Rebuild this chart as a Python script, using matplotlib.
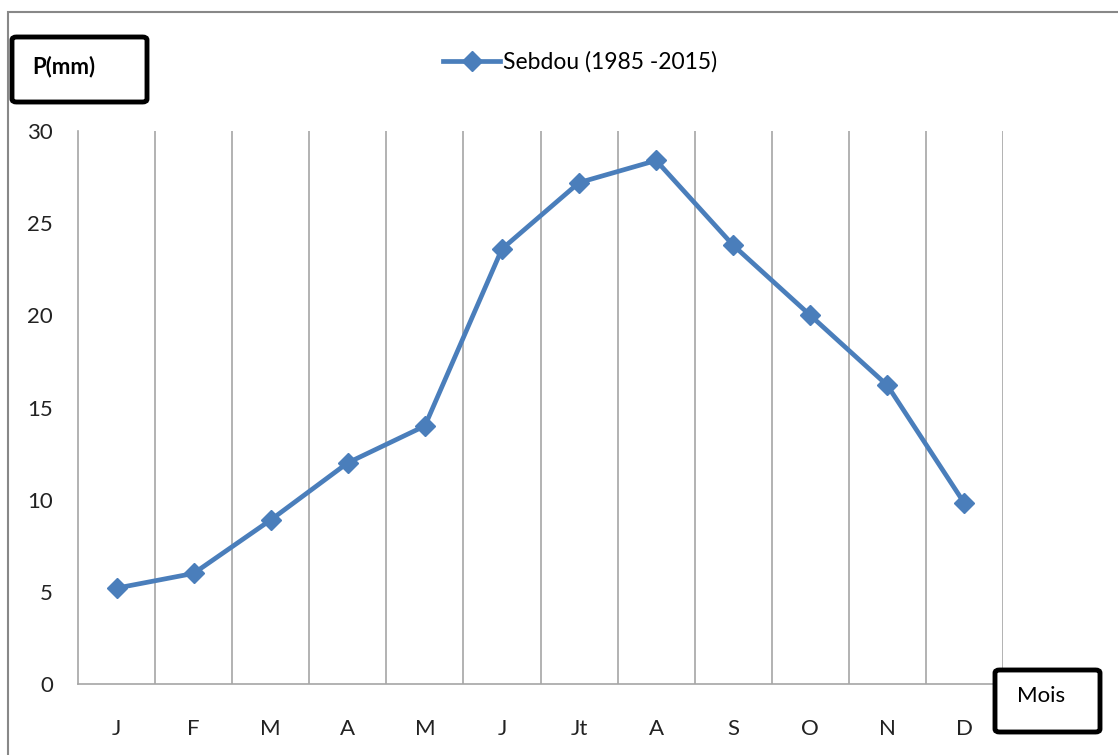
import numpy as np
import matplotlib.pyplot as plt
from matplotlib.patches import FancyBboxPatch, Rectangle

plt.rcParams['font.family'] = ['Lato', 'DejaVu Sans']

# Monthly precipitation, Sebdou (1985-2015)
months = ['J', 'F', 'M', 'A', 'M', 'J', 'Jt', 'A', 'S', 'O', 'N', 'D']
precip = [5.2, 6.0, 8.9, 12.0, 14.0, 23.6, 27.2, 28.4, 23.8, 20.0, 16.2, 9.8]
series_label = 'Sebdou (1985 -2015)'
y_ticks = [0, 5, 10, 15, 20, 25, 30]

blue = '#4a7ebb'
grid_gray = '#a6a6a6'

fig = plt.figure(figsize=(11.18, 7.55), dpi=100)
ax = fig.add_axes([78 / 1118, 1 - 684 / 755, 925 / 1118, 553 / 755])

x = np.arange(len(months))
ax.plot(x, precip, color=blue, lw=3.4, marker='D', markersize=10,
        markerfacecolor=blue, markeredgecolor=blue, label=series_label)

ax.set_xlim(-0.5, len(months) - 0.5)
ax.set_ylim(0, 30)
ax.set_yticks(y_ticks)
ax.set_xticks(x)
ax.set_xticklabels(months)
ax.tick_params(length=0, labelsize=16, colors='#222222')
ax.tick_params(axis='x', pad=25)
ax.tick_params(axis='y', pad=18)

# category boundary gridlines
for b in np.arange(0.5, len(months), 1.0):
    ax.axvline(b, color=grid_gray, lw=1.2, zorder=0)

for s in ['top', 'right']:
    ax.spines[s].set_visible(False)
for s in ['left', 'bottom']:
    ax.spines[s].set_color(grid_gray)
    ax.spines[s].set_linewidth(1.2)

leg = fig.legend(loc='center', bbox_to_anchor=(580 / 1118, 1 - 62 / 755),
                 frameon=False, fontsize=16.5, handlelength=2.5,
                 handletextpad=0.1)

# outer chart border
fig.patches.append(Rectangle((8 / 1118, -0.05), 1.2, 1 - 12 / 755 + 0.05,
                             transform=fig.transFigure, fill=False,
                             edgecolor='#888888', lw=1.5))

# axis title boxes
for (x0, y0, x1, y1, txt, tx) in [(12, 37, 147, 102, 'P(mm)', 32),
                                  (995, 670, 1100, 732, 'Mois', 1017)]:
    box = FancyBboxPatch((x0 / 1118, 1 - y1 / 755), (x1 - x0) / 1118, (y1 - y0) / 755,
                         boxstyle='round,pad=0,rounding_size=0.004',
                         transform=fig.transFigure, facecolor='white',
                         edgecolor='black', lw=3.5, zorder=5)
    fig.patches.append(box)
    fig.text(tx / 1118, 1 - (y0 + y1) / 2 / 755 + (0.006 if txt == 'Mois' else 0.004),
             txt, fontsize=16, fontweight='bold' if txt == 'P(mm)' else 'normal',
             va='center', ha='left', zorder=6)

fig.savefig('out.png', dpi=100)
